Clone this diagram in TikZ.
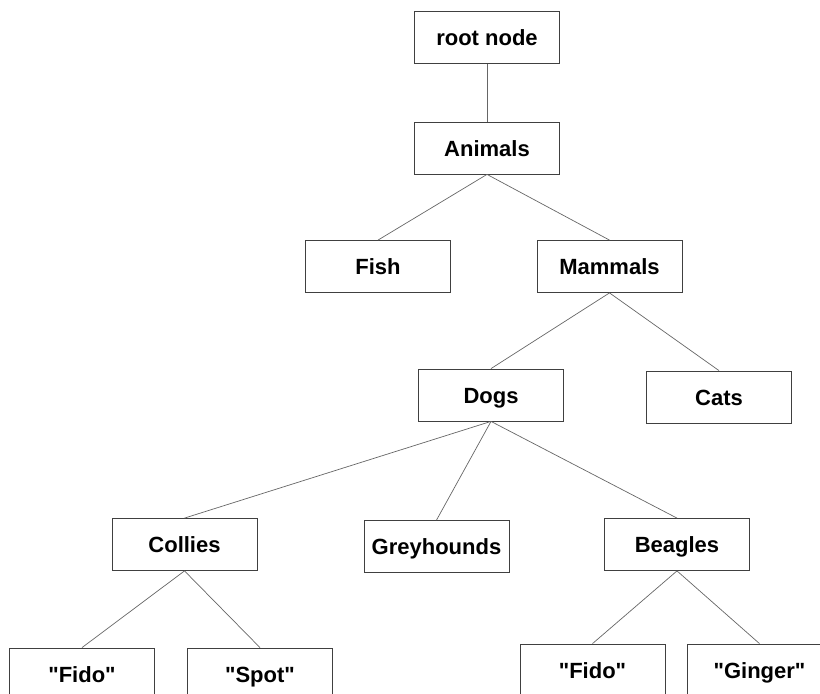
\documentclass[tikz,border=0pt]{standalone}
\usepackage{fontspec}
\newfontfamily\boxfont{Liberation Sans}
\begin{document}
\begin{tikzpicture}[x=1pt,y=1pt,
    box/.style={rectangle,draw=black!75,line width=0.8pt,minimum width=145pt,minimum height=52pt,
      text height=16pt,text depth=0pt,font=\boxfont\bfseries\fontsize{22}{26}\selectfont},
    parent anchor=south,child anchor=north,
    edge from parent/.style={draw=black!60,line width=0.7pt}]
    \useasboundingbox (0,0) rectangle (820,-694);
    \node[box] (root) at (487,-37.5) {root node}[level distance=110.5pt]
      child {node [box] (animals) {Animals}[level distance=118.5pt,sibling distance=231.5pt]
        child[xshift=6.75pt] {node [box] (fish) {Fish}}
        child[xshift=6.75pt] {node [box] (mammals) {Mammals}[level distance=128.5pt,sibling distance=228pt]
          child[xshift=-4.5pt] {node [box] (dogs) {Dogs}[level distance=149.5pt,sibling distance=246.25pt]
            child[xshift=-60.25pt] {node [box] (collies) {Collies}[level distance=129.5pt,sibling distance=178pt]
              child[xshift=-13.5pt] {node [box] (fidoa) {"Fido"}}
              child[xshift=-13.5pt] {node [box] (spot) {"Spot"}}}
            child[xshift=-54.5pt,yshift=-2pt] {node [box] (greyhounds) {Greyhounds}}
            child[xshift=-60.25pt] {node [box] (beagles) {Beagles}[level distance=125.5pt,sibling distance=167pt]
              child[xshift=-1pt] {node [box] (fidob) {"Fido"}}
              child[xshift=-1pt] {node [box] (ginger) {"Ginger"}}}}
          child[xshift=-4.5pt,yshift=-2pt] {node [box] (cats) {Cats}}}};
  \end{tikzpicture}
\end{document}
